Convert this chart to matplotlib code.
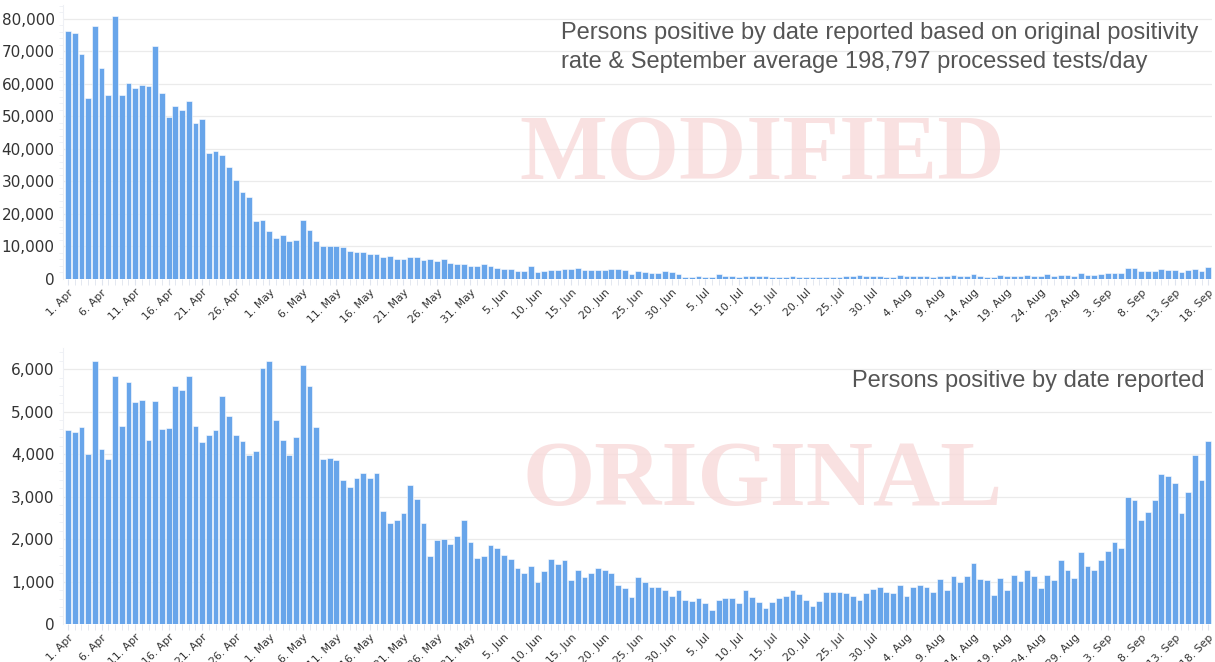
import numpy as np
import pandas as pd
import matplotlib
matplotlib.use("Agg")
import matplotlib.pyplot as plt
from matplotlib.ticker import FuncFormatter, MultipleLocator

# Jours du 1 avril au 18 septembre
dates = pd.date_range("2020-04-01", "2020-09-18", freq="D")
date_labels = [f"{d.day}. {d.strftime('%b')}" for d in dates]

# Cas positifs "modifiés" (taux de positivité x 198 797 tests/jour)
modified = [
    76400, 75700, 69300, 55700, 77700, 64800, 56700, 81000, 56700, 60400,
    58700, 59600, 59500, 71800, 57300, 49800, 53300, 52000, 54900, 48100,
    49300, 38900, 39400, 38100, 34600, 30500, 26900, 25200, 17800, 18100,
    14700, 12600, 13400, 11600, 12000, 18300, 15100, 11800, 10100, 10100,
    10100, 9800, 8700, 8200, 8400, 7700, 7700, 6900, 7200, 6100,
    6100, 6900, 6900, 5800, 6000, 5400, 6100, 4900, 4700, 4700,
    4100, 3900, 4600, 4100, 3400, 3100, 3100, 2600, 2600, 3900,
    2000, 2400, 2900, 2900, 3100, 3100, 3500, 2700, 2700, 2900,
    2700, 3000, 3200, 2700, 1600, 2400, 2000, 1800, 1800, 2500,
    2200, 1500, 700, 700, 800, 700, 700, 1400, 900, 900,
    600, 1000, 800, 1000, 1000, 700, 700, 700, 800, 700,
    700, 600, 700, 700, 700, 700, 800, 900, 1200, 900,
    800, 800, 700, 700, 1100, 800, 900, 900, 800, 700,
    1000, 800, 1300, 900, 900, 1400, 900, 600, 500, 1300,
    900, 900, 900, 1100, 900, 900, 1400, 1000, 1300, 1100,
    1000, 1700, 1200, 1200, 1400, 1700, 1900, 1700, 3300, 3300,
    2600, 2600, 2600, 3000, 2800, 2800, 2100, 2800, 3200, 2600, 3600,
]

# Cas positifs originaux par date de déclaration
original = [
    4560, 4510, 4650, 4000, 6200, 4130, 3880, 5850, 4670, 5700,
    5220, 5270, 4340, 5260, 4600, 4610, 5600, 5520, 5840, 4670,
    4290, 4440, 4570, 5380, 4900, 4450, 4300, 3980, 4070, 6030,
    6200, 4800, 4340, 3980, 4400, 6100, 5610, 4630, 3890, 3910,
    3870, 3390, 3230, 3450, 3550, 3450, 3550, 2660, 2390, 2450,
    2610, 3280, 2950, 2390, 1600, 1990, 2000, 1880, 2080, 2440,
    1920, 1560, 1590, 1850, 1790, 1630, 1540, 1310, 1190, 1370,
    990, 1250, 1520, 1410, 1500, 1040, 1260, 1100, 1190, 1330,
    1270, 1190, 930, 850, 630, 1110, 990, 870, 880, 790,
    670, 810, 570, 530, 610, 490, 340, 570, 610, 620,
    490, 810, 640, 510, 370, 520, 620, 670, 810, 710,
    570, 420, 540, 750, 750, 750, 730, 670, 570, 740,
    830, 860, 750, 720, 920, 660, 880, 930, 860, 750,
    1050, 790, 1130, 990, 1120, 1430, 1070, 1040, 690, 1080,
    790, 1160, 1020, 1280, 1140, 840, 1160, 1030, 1510, 1260,
    1090, 1700, 1370, 1280, 1500, 1720, 1920, 1800, 2980, 2930,
    2440, 2640, 2910, 3530, 3490, 3320, 2610, 3100, 3980, 3380, 4320,
]

titles = [
    "Persons positive by date reported based on original positivity\n"
    "rate & September average 198,797 processed tests/day",
    "Persons positive by date reported",
]
watermarks = ["MODIFIED", "ORIGINAL"]

bar_color = "#68a5ea"
W, H = 1215, 662
fig = plt.figure(figsize=(W / 100, H / 100), dpi=100)

panels = [
    (modified, [63, 5, 1212, 279], 84300, 10000, (762, 157)),
    (original, [63, 348, 1212, 624], 6500, 1000, (763, 483)),
]

x = np.arange(len(dates))
for k, (vals, box, ymax, step, wm) in enumerate(panels):
    x0, y0, x1, y1 = box
    ax = fig.add_axes([x0 / W, 1 - y1 / H, (x1 - x0) / W, (y1 - y0) / H])
    ax.bar(x, vals, width=0.86, color=bar_color, edgecolor="white",
           linewidth=0.4, zorder=2)
    ax.set_xlim(-0.75, 170.55)
    ax.set_ylim(0, ymax)

    ax.yaxis.set_major_locator(MultipleLocator(step))
    ax.yaxis.set_minor_locator(MultipleLocator(step / 5))
    ax.yaxis.set_major_formatter(FuncFormatter(lambda v, p: f"{v:,.0f}"))
    ax.grid(axis="y", color="#ebebeb", linewidth=0.9, zorder=0)
    ax.set_axisbelow(True)

    ax.set_xticks(x[::5])
    ax.set_xticks(x, minor=True)
    ax.set_xticklabels(date_labels[::5], rotation=45, ha="right",
                       rotation_mode="anchor", fontsize=7.8, color="#333333")
    ax.tick_params(axis="x", which="both", length=4, color="#dfe4ee", pad=2)
    ax.tick_params(axis="y", which="major", length=0, labelsize=11,
                   labelcolor="#333333", pad=6)
    ax.tick_params(axis="y", which="minor", length=3, color="#eef0f5")

    for s in ["top", "right", "bottom"]:
        ax.spines[s].set_visible(False)
    ax.spines["left"].set_color("#eef0f5")

    # Filigrane
    fig.text(wm[0] / W, 1 - wm[1] / H, watermarks[k], fontsize=67,
             fontweight="bold", family="Liberation Serif", color="#f8dada",
             alpha=0.8, ha="center", va="center", zorder=0)

fig.text(1198 / W, 1 - 22 / H, titles[0], ha="right", va="top",
         multialignment="left", fontsize=17, color="#555555",
         family="Liberation Sans", linespacing=1.4)
fig.text(1205 / W, 1 - 381 / H, titles[1], ha="right", va="center",
         fontsize=17, color="#555555", family="Liberation Sans")

plt.savefig("out.png", dpi=100)
